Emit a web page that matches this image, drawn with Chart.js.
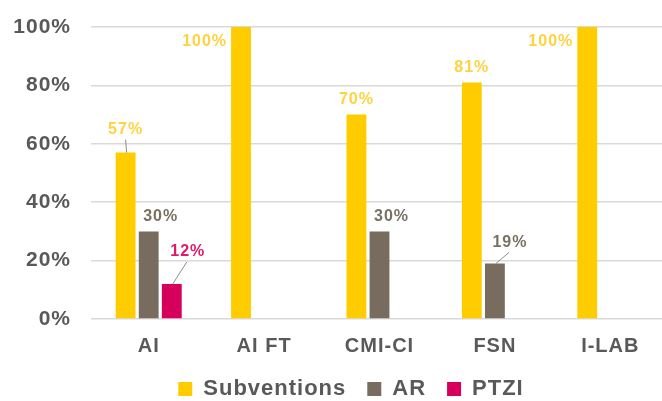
<!DOCTYPE html>
<html>
<head>
<meta charset="utf-8">
<script src="https://cdn.jsdelivr.net/npm/chart.js@4.4.1/dist/chart.umd.min.js"></script>
<style>
  html, body { margin: 0; padding: 0; background: #fff; overflow: hidden; }
  #wrap { width: 670px; height: 401px; position: relative; }
</style>
</head>
<body>
<div id="wrap"><canvas id="myBarChart"></canvas></div>
<script>
// data
const categories = ['AI', 'AI FT', 'CMI-CI', 'FSN', 'I-LAB'];
const subventions = [57, 100, 70, 81, 100];
const ar = [30, null, 30, 19, null];
const ptzi = [12, null, null, null, null];
const yTicks = [0, 20, 40, 60, 80, 100];

const FONT = '"Liberation Sans", Arial, sans-serif';

// label tweaks: key = dataset-index
const labelTweaks = {
  '0-0': { dy: -23, leader: true },
  '1-0': { dx: 12 },
  '2-0': { dx: 16, dy: -32, leader: true },
  '1-2': { dx: 12 },
  '1-3': { dx: 15, dy: -21, leader: true }
};
const labelColors = ['#ffd23f', '#7a7062', '#e0186a'];

// the reference text is set a bit wider than Liberation Sans
const spacing = {
  id: 'spacing',
  beforeLayout(chart) { chart.ctx.letterSpacing = '1px'; },
  beforeDraw(chart) { chart.ctx.letterSpacing = '1px'; },
  afterLayout(chart) {
    // legend sits a little right of centre in the reference
    chart.legend.left += 17;
    chart.legend.right += 17;
  }
};

const barLabels = {
  id: 'barLabels',
  afterDatasetsDraw(chart) {
    const c = chart.ctx;
    c.save();
    c.font = 'bold 16px ' + FONT;
    c.textBaseline = 'middle';
    chart.data.datasets.forEach((ds, di) => {
      const meta = chart.getDatasetMeta(di);
      meta.data.forEach((bar, i) => {
        const v = ds.data[i];
        if (v == null) return;
        const txt = v + '%';
        c.fillStyle = labelColors[di];
        if (v === 100) {
          c.textAlign = 'right';
          c.fillText(txt, bar.x - bar.width / 2 - 4, bar.y + 15);
          return;
        }
        const t = labelTweaks[di + '-' + i] || {};
        const lx = bar.x + (t.dx || 0);
        const ly = bar.y + (t.dy === undefined ? -15 : t.dy);
        if (t.leader) {
          c.strokeStyle = '#8c8c8c';
          c.lineWidth = 1;
          c.beginPath();
          c.moveTo(bar.x + 1, bar.y);
          c.lineTo(lx - (t.dx ? 1 : 0), ly + 10);
          c.stroke();
        }
        c.textAlign = 'center';
        c.fillText(txt, lx, ly);
      });
    });
    c.restore();
  }
};

const ctx = document.getElementById('myBarChart');
new Chart(ctx, {
  type: 'bar',
  data: {
    labels: categories,
    datasets: [
      { label: 'Subventions', data: subventions, backgroundColor: '#ffcc00' },
      { label: 'AR', data: ar, backgroundColor: '#776c5d' },
      { label: 'PTZI', data: ptzi, backgroundColor: '#d6005c' }
    ]
  },
  options: {
    responsive: true,
    maintainAspectRatio: false,
    animation: false,
    categoryPercentage: 0.6,
    barPercentage: 0.86,
    layout: { padding: { left: 0, right: 2, top: 27, bottom: 0 } },
    plugins: {
      tooltip: { enabled: false },
      legend: {
        position: 'bottom',
        maxHeight: 44,
        labels: {
          boxWidth: 14,
          boxHeight: 14,
          padding: 21,
          color: '#595959',
          font: { family: FONT, size: 22, weight: 'bold', lineHeight: 1 }
        }
      }
    },
    scales: {
      x: {
        afterFit: axis => { axis.height = 38; },
        grid: { display: false, drawTicks: false },
        border: { display: false },
        ticks: {
          color: '#595959',
          padding: 17,
          font: { family: FONT, size: 20, weight: 'bold', lineHeight: 1.05 }
        }
      },
      y: {
        min: 0,
        max: 100,
        afterBuildTicks: axis => { axis.ticks = yTicks.map(v => ({ value: v })); },
        afterFit: axis => { axis.width = 91; axis.paddingTop = 0; axis.paddingBottom = 0; },
        grid: { color: '#d9d9d9', lineWidth: 1.5, drawTicks: false },
        border: { display: false },
        ticks: {
          color: '#595959',
          padding: 20,
          callback: v => v + '%',
          font: { family: FONT, size: 21, weight: 'bold' }
        }
      }
    }
  },
  plugins: [spacing, barLabels]
});
</script>
</body>
</html>
